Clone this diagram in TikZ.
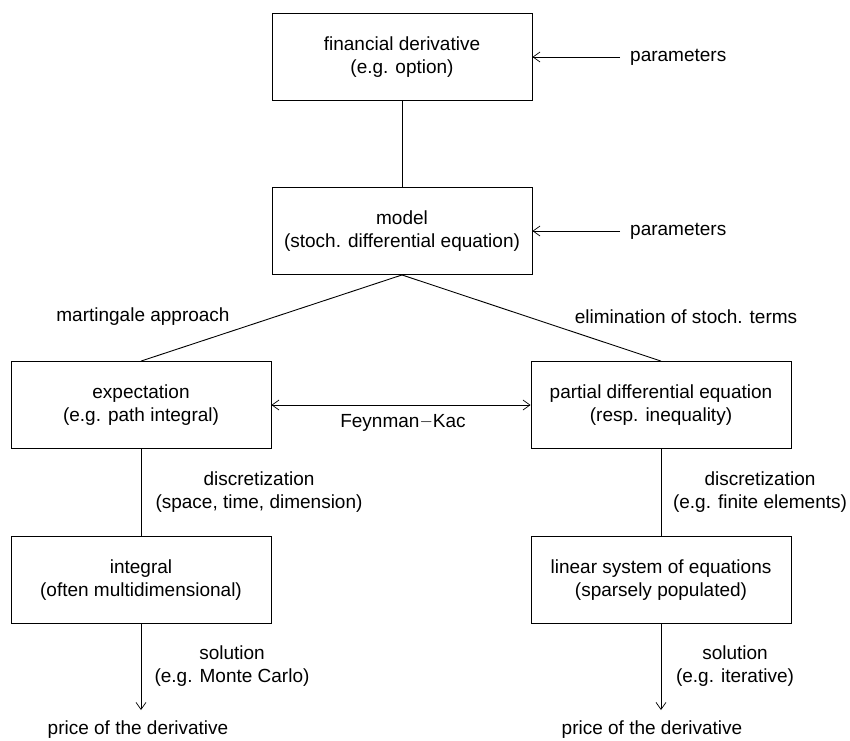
\documentclass[tikz,border=0pt]{standalone}
\usepackage{fontspec}
\setmainfont{Liberation Sans}
\usetikzlibrary{arrows.meta}
\begin{document}
\begin{tikzpicture}[x=1pt,y=-1pt,
  box/.style={draw,line width=0.9pt,minimum width=260pt,minimum height=87pt,inner sep=0pt,align=center,font=\fontsize{19}{22.5}\selectfont},
  lbl/.style={align=center,font=\fontsize{19}{22.5}\selectfont,inner sep=0pt},
  conn/.style={line width=0.9pt},
  arr/.style={line width=0.9pt,-{Straight Barb[length=7pt,width=10pt,line width=0.7pt]}},
  darr/.style={line width=0.9pt,{Straight Barb[length=7pt,width=10pt,line width=0.7pt]}-{Straight Barb[length=7pt,width=10pt,line width=0.7pt]}}]
\useasboundingbox (0,0) rectangle (850,740);
\node[box] (fd) at (402,57) {financial derivative\\(e.g. option)};
\node[box] (mo) at (402,231) {model\\(stoch. differential equation)};
\node[box] (ex) at (141,405) {expectation\\(e.g. path integral)};
\node[box] (pde) at (661,405) {partial differential equation\\(resp. inequality)};
\node[box] (in) at (141,580) {integral\\(often multidimensional)};
\node[box] (ls) at (661,580) {linear system of equations\\(sparsely populated)};
\node[lbl,anchor=west] (p1) at (630,57) {parameters};
\node[lbl,anchor=west] (p2) at (630,231) {parameters};
\node[lbl] (ma) at (143,317) {martingale approach};
\node[lbl] (el) at (686,317) {elimination of stoch. terms};
\node[lbl] (fk) at (403,423) {Feynman{\raisebox{0.1ex}{$-$}}Kac};
\node[lbl] (d1) at (259,492) {discretization\\(space, time, dimension)};
\node[lbl] (d2) at (760,492) {discretization\\(e.g. finite elements)};
\node[lbl] (s1) at (232,666) {solution\\(e.g. Monte Carlo)};
\node[lbl] (s2) at (735,666) {solution\\(e.g. iterative)};
\node[lbl] (pr1) at (138,730) {price of the derivative};
\node[lbl] (pr2) at (652,730) {price of the derivative};
\coordinate (e1) at (141,710);
\coordinate (e2) at (661,710);
\draw[conn] (fd) -- (mo);
\draw[arr] (p1.west) ++(-10,0) -- (fd.east);
\draw[arr] (p2.west) ++(-10,0) -- (mo.east);
\draw[conn] (mo.south) -- (ex.north);
\draw[conn] (mo.south) -- (pde.north);
\draw[darr] (ex.east) -- (pde.west);
\draw[conn] (ex) -- (in);
\draw[conn] (pde) -- (ls);
\draw[arr] (in.south) -- (e1);
\draw[arr] (ls.south) -- (e2);
\end{tikzpicture}
\end{document}
